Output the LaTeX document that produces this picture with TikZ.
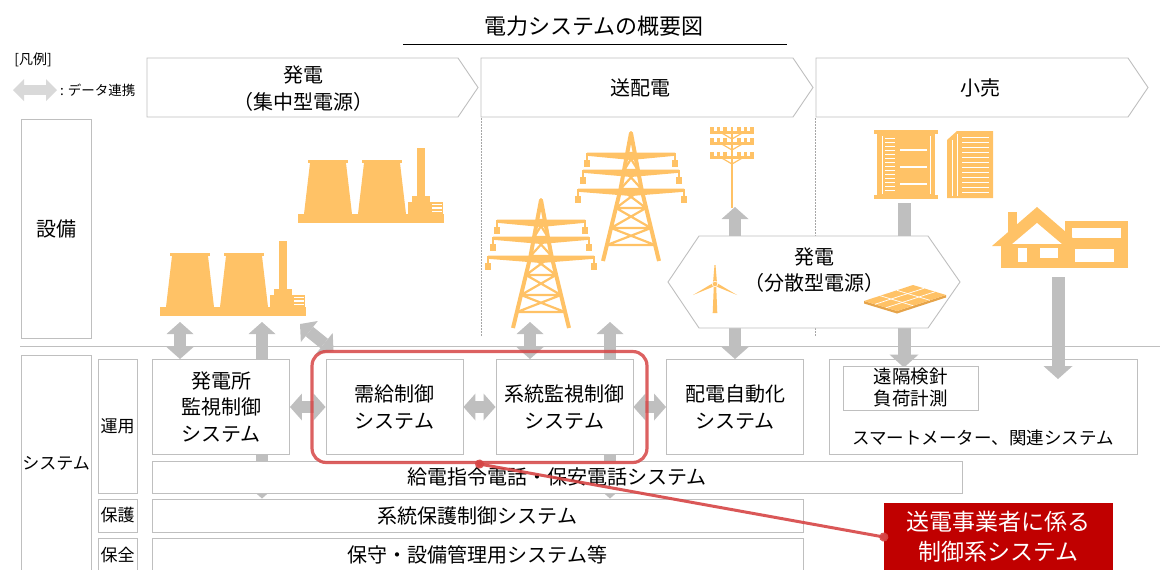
\documentclass[tikz,border=0pt]{standalone}
\usepackage{fontspec}
\setmainfont{Noto Sans CJK JP}
\usetikzlibrary{arrows.meta,calc,fit}

\definecolor{iconorange}{HTML}{FFC266}
\definecolor{panelshade}{HTML}{E6A44A}
\definecolor{linkgray}{HTML}{BFBFBF}
\definecolor{boxgray}{HTML}{BFBFBF}
\definecolor{legendgray}{HTML}{D9D9D9}
\definecolor{framered}{HTML}{D64545}
\definecolor{notered}{HTML}{C00000}

\pgfdeclarelayer{back}
\pgfsetlayers{back,main}

\tikzset{
  sysbox/.style={draw=boxgray,fill=white,line width=0.9pt,inner sep=0pt,align=center,
    font=\fontsize{20}{26.5}\selectfont},
  sidebox/.style={draw=boxgray,fill=white,line width=0.9pt,inner sep=0pt,align=center},
  hdr/.style={draw=boxgray,fill=white,line width=0.9pt},
  hdrtext/.style={align=center,font=\fontsize{20}{27}\selectfont},
  dlink/.style={draw=linkgray,line width=12pt,
    {Triangle[width=27pt,length=12pt,line width=0pt]}-{Triangle[width=27pt,length=12pt,line width=0pt]}},
  flow/.style={draw=linkgray,line width=13pt,-{Triangle[width=29pt,length=13pt,line width=0pt]}},
  redframe/.style={draw=framered,draw opacity=0.85,line width=3.2pt,rounded corners=14pt,
    inner xsep=13.5pt,inner ysep=7.5pt},
  redlink/.style={draw=framered,draw opacity=0.9,line width=3pt,
    {Circle[length=9pt]}-{Circle[length=9pt]},shorten <=-4.5pt,shorten >=-4.5pt},
  notebox/.style={fill=notered,text=white,inner sep=0pt,align=center,
    minimum width=229pt,minimum height=68pt,font=\fontsize{23}{30}\selectfont},
  % thermal plant: origin at lower left of the base
  plant/.pic={
    \fill[iconorange] (0,-9) rectangle (146,0);
    \fill[iconorange] (10,-63) rectangle (50,-60);
    \fill[iconorange] (12,-60) -- (48,-60) -- (54,-9) -- (6,-9) -- cycle;
    \fill[iconorange] (64,-63) rectangle (104,-60);
    \fill[iconorange] (66,-60) -- (102,-60) -- (108,-9) -- (60,-9) -- cycle;
    \fill[iconorange] (119,-75) rectangle (127,-27);
    \fill[iconorange] (114,-27) rectangle (132,-21);
    \fill[iconorange] (110,-21) rectangle (145,-9);
    \draw[white,line width=1.3pt] (134,-18.5) -- (144,-18.5) (134,-15) -- (144,-15)
      (134,-11.5) -- (144,-11.5);
  },
  % transmission tower: origin at the apex
  tower/.pic={
    \draw[iconorange,line width=4pt,line join=round] (-28,128) -- (-10.5,56) -- (0,0)
      -- (10.5,56) -- (28,128);
    \draw[iconorange,line width=2.2pt]
      (-3.7,20) -- (3.7,20) (-6.8,37) -- (6.8,37) (-10.5,56) -- (10.5,56)
      (-15,75) -- (15,75) (-20,95) -- (20,95) (-24,112) -- (24,112)
      (-3.7,20) -- (6.8,37) (3.7,20) -- (-6.8,37)
      (-6.8,37) -- (10.5,56) (6.8,37) -- (-10.5,56)
      (-10.5,56) -- (15,75) (10.5,56) -- (-15,75)
      (-15,75) -- (20,95) (15,75) -- (-20,95)
      (-20,95) -- (24,112) (20,95) -- (-24,112);
    \foreach \d/\w in {20/44,37/48,56/53}{
      \fill[iconorange] (-\w,\d-0.5) -- (\w,\d-0.5) -- (\w,\d+2.8) -- (0,\d+7) -- (-\w,\d+2.8) -- cycle;
      \draw[iconorange,line width=1.8pt] (-\w,\d) -- (-\w,\d+8) (\w,\d) -- (\w,\d+8);
      \fill[iconorange] (-\w-3,\d+7) rectangle (-\w+3,\d+14);
      \fill[iconorange] (\w-3,\d+7) rectangle (\w+3,\d+14);
    }
  },
  % distribution pole: origin at the top
  pole/.pic={
    \draw[iconorange,line width=2.5pt] (0,0) -- (0,81);
    \foreach \d in {5,16,30}{
      \draw[iconorange,line width=3pt] (-22,\d) -- (22,\d);
      \draw[iconorange,line width=1.2pt] (-12,\d) -- (0,\d+7) -- (12,\d);
      \foreach \x in {-20,-13.5,-7,7,13.5,20}
        \fill[iconorange] (\x-1.8,\d-5.5) rectangle (\x+1.8,\d);
    }
  }
}

\begin{document}
\begin{tikzpicture}[x=1pt,y=-1pt]
\useasboundingbox (0,0) rectangle (1160,570);

% title and legend
\node[font=\fontsize{22}{26}\selectfont] (title) at (594,26) {電力システムの概要図};
\draw[line width=1pt] (403,44) -- (787,44);
\node[font=\fontsize{14}{16}\selectfont] (legTitle) at (33,60) {[凡例]};
\node[anchor=west,inner sep=0pt,font=\fontsize{13.5}{16}\selectfont] (legText) at (60,90) {: データ連携};
\draw[draw=legendgray,line width=10pt,
  {Triangle[width=22pt,length=11pt,line width=0pt]}-{Triangle[width=22pt,length=11pt,line width=0pt]}]
  ([xshift=-47pt]legText.west) -- ([xshift=-3pt]legText.west);

% stage headers
\draw[hdr] (147,58) -- (458,58) -- (478,87.5) -- (458,117) -- (147,117) -- cycle;
\draw[hdr] (481,58) -- (793,58) -- (813,87.5) -- (793,117) -- (481,117) -- cycle;
\draw[hdr] (816,58) -- (1128,58) -- (1148,87.5) -- (1128,117) -- (816,117) -- cycle;
\node[hdrtext] (hdrGen) at (303,89) {発電\\（集中型電源）};
\node[hdrtext] (hdrGrid) at (640,88) {送配電};
\node[hdrtext] (hdrRetail) at (980,88) {小売};
\draw[gray!70,line width=0.7pt,dash pattern=on 1.5pt off 1.5pt] (481,118) -- (481,337) (815,118) -- (815,337);

% row labels
\node[sidebox,minimum width=70pt,minimum height=219pt,font=\fontsize{20}{24}\selectfont] (setsubi) at (56,228.5) {設備};
\draw[boxgray,line width=0.9pt] (20,346) -- (1160,346);
\node[sidebox,minimum width=70pt,minimum height=216pt,font=\fontsize{17}{20}\selectfont] (sysAll) at (56,463) {システム};
\node[sidebox,minimum width=39pt,minimum height=134pt,font=\fontsize{17}{20}\selectfont] (unyo) at (117.5,426) {運用};
\node[sidebox,minimum width=39pt,minimum height=33pt,font=\fontsize{17}{20}\selectfont] (hogoL) at (117.5,515.5) {保護};
\node[sidebox,minimum width=39pt,minimum height=34pt,font=\fontsize{17}{20}\selectfont] (hozenL) at (117.5,555) {保全};

% equipment icons
\pic at (298,223) {plant};
\pic at (160,316) {plant};
\pic at (541,200) {tower};
\pic at (631,133) {tower};
\pic at (732,127) {pole};
% office blocks
\fill[iconorange] (874,130) rectangle (938,134);
\fill[iconorange] (877,134) rectangle (935,195);
\fill[iconorange] (874,195) rectangle (938,199);
\draw[white,line width=0.8pt] (882,136) -- (882,194) (930,136) -- (930,194);
\foreach \y in {138,142,...,192} \draw[white,line width=0.8pt] (885,\y) -- (895,\y);
\draw[white,line width=1.4pt] (900,150) -- (927,150) (900,167) -- (927,167) (900,184) -- (927,184);
\fill[iconorange] (947,140) -- (957,131) -- (993,131) -- (993,198) -- (947,198) -- cycle;
\draw[white,line width=0.8pt] (952,140) -- (952,196) (957,134) -- (957,196);
\foreach \y in {137,142,...,192} \draw[white,line width=1pt] (962,\y) -- (989,\y);
% house
\fill[iconorange] (1008,212) rectangle (1017,232);
\fill[iconorange] (1065,221) rectangle (1128,268);
\fill[white] (1072,228) rectangle (1121,238);
\fill[white] (1075,249) rectangle (1114,262);
\fill[iconorange] (992,246) -- (1037,207) -- (1082,246) -- cycle;
\fill[white] (1011,245) -- (1037,223) -- (1063,245) -- cycle;
\fill[iconorange] (1001,244) rectangle (1067,268);
\fill[white] (1018,248) rectangle (1027,262);
\fill[white] (1040,248) rectangle (1058,258);

% operation systems
\node[sysbox,minimum width=137pt,minimum height=95pt] (pwMon) at (221,407) {発電所\\監視制御\\システム};
\node[sysbox,minimum width=137pt,minimum height=95pt] (jkCtl) at (394.5,407) {需給制御\\システム};
\node[sysbox,minimum width=137pt,minimum height=95pt] (kgCtl) at (564.5,407) {系統監視制御\\システム};
\node[sysbox,minimum width=137pt,minimum height=95pt] (haiden) at (735,407) {配電自動化\\システム};
\node[sysbox,fill=none,minimum width=308pt,minimum height=95pt] (smart) at (983,407) {};
\node[sysbox,minimum width=135pt,minimum height=44pt,font=\fontsize{18.5}{22}\selectfont] (meter) at (910.5,388) {遠隔検針\\負荷計測};
\node[font=\fontsize{17.5}{20}\selectfont] (smartText) at (983,438) {スマートメーター、関連システム};
\node[sysbox,minimum width=810pt,minimum height=32pt] (kyuden) at (557,477) {給電指令電話・保安電話システム};
\node[sysbox,minimum width=651pt,minimum height=33pt] (protect) at (477.5,515.5) {系統保護制御システム};
\node[sysbox,minimum width=651pt,minimum height=34pt] (maint) at (477.5,555) {保守・設備管理用システム等};

% distributed generation
\draw[hdr] (668,282) -- (699,236) -- (928,236) -- (960,282) -- (928,328) -- (699,328) -- cycle;
\node[hdrtext,font=\fontsize{20}{26}\selectfont] (dgen) at (814,270) {発電\\（分散型電源）};
\fill[iconorange] (713.8,286) -- (716.2,286) -- (717.3,313) -- (712.7,313) -- cycle;
\fill[iconorange] (713,283) -- (714.5,265) -- (715.5,265) -- (717,283) -- cycle;
\fill[iconorange] (715.8,285.6) -- (693,295) -- (714.2,282.4) -- cycle;
\fill[iconorange] (714.2,285.6) -- (737,295) -- (715.8,282.4) -- cycle;
\filldraw[fill=iconorange,draw=white,line width=0.6pt] (715,284) circle (2.8pt);
\fill[panelshade] (864,301) -- (897,311) -- (946,295) -- (946,297.5) -- (897,313.5) -- (864,303.5) -- cycle;
\fill[iconorange] (864,301) -- (913,285) -- (946,295) -- (897,311) -- cycle;
\foreach \t in {0.33,0.67}{
  \draw[white,line width=0.7pt] ($(864,301)!\t!(913,285)$) -- ($(897,311)!\t!(946,295)$);
  \draw[white,line width=0.7pt] ($(864,301)!\t!(897,311)$) -- ($(913,285)!\t!(946,295)$);
}

% data links, behind the boxes
\coordinate (plantA) at (180,322);
\coordinate (plantB) at (262,322);
\coordinate (plantC) at (300,324);
\coordinate (towerA) at (530,322);
\coordinate (towerB) at (610,322);
\coordinate (poleFoot) at (735,207);
\coordinate (bldgFoot) at (904,203);
\coordinate (houseFoot) at (1058,277);
\begin{pgfonlayer}{back}
\draw[dlink] (plantA) -- (plantA |- pwMon.north);
\draw[dlink] (plantB) -- (plantB |- protect.north);
\draw[dlink] (plantC) -- ([shift={(8,-8)}]jkCtl.north west);
\draw[dlink] (towerA) -- (towerA |- kgCtl.north);
\draw[dlink] (towerB) -- (towerB |- protect.north);
\draw[dlink] (poleFoot) -- (poleFoot |- haiden.north);
\draw[dlink] (pwMon.east) -- (jkCtl.west);
\draw[dlink] (jkCtl.east) -- (kgCtl.west);
\draw[dlink] (kgCtl.east) -- (haiden.west);
\draw[flow] (bldgFoot) -- ([yshift=-2pt]bldgFoot |- meter.north);
\draw[flow] (houseFoot) -- ([yshift=-20pt]houseFoot |- smart.north);
\end{pgfonlayer}

% control systems of the transmission operator
\node[redframe,fit=(jkCtl)(kgCtl)] (ctlFrame) {};
\node[notebox] (note) at (998.5,537) {送電事業者に係る\\制御系システム};
\draw[redlink] (ctlFrame.south) -- (note.west);
\end{tikzpicture}
\end{document}
